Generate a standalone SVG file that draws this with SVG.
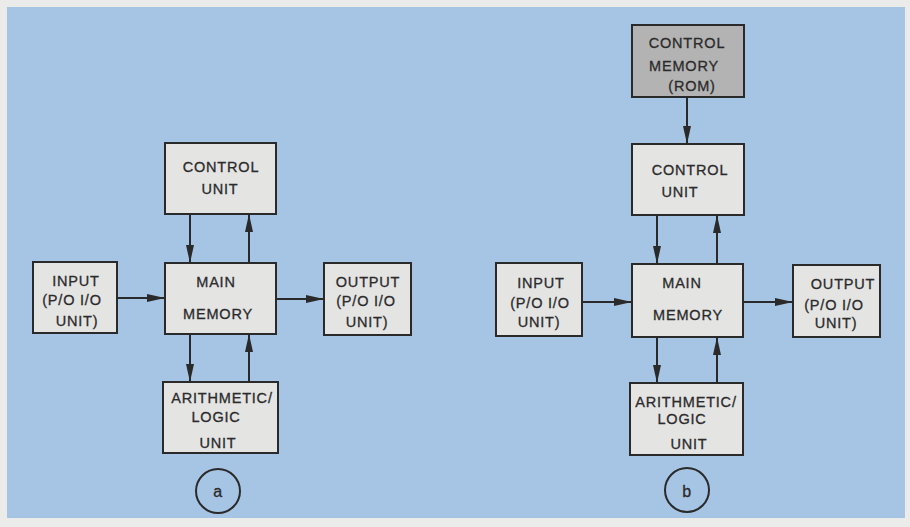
<svg xmlns="http://www.w3.org/2000/svg" width="910" height="527" viewBox="0 0 910 527">
<style>
.box{fill:#e4e4e3;stroke:#2a2a2a;stroke-width:2}
.rom{fill:#b4b3b3;stroke:#2a2a2a;stroke-width:2}
.t{font-family:"Liberation Sans",Arial,sans-serif;font-size:14.5px;fill:#2b2b2b;stroke:#2b2b2b;stroke-width:0.3;text-anchor:middle;letter-spacing:0.8px}
.c{fill:none;stroke:#2a2a2a;stroke-width:2}
.ln{stroke:#2a2a2a;stroke-width:2;fill:none}
</style>
<defs>
<marker id="ah" viewBox="0 0 18 8" refX="18" refY="4" markerWidth="18" markerHeight="8" markerUnits="userSpaceOnUse" orient="auto">
<path d="M0,0 L18,4 L0,8 Z" fill="#2a2a2a"/>
</marker>
</defs>
<rect x="0" y="0" width="910" height="527" fill="#ebebea"/>
<rect x="7" y="7" width="898" height="511" fill="#a6c4e3"/>

<g id="connectors">
<line class="ln" x1="190" y1="214" x2="190" y2="263" marker-end="url(#ah)"/>
<line class="ln" x1="249" y1="263" x2="249" y2="214" marker-end="url(#ah)"/>
<line class="ln" x1="190" y1="334" x2="190" y2="382" marker-end="url(#ah)"/>
<line class="ln" x1="249" y1="382" x2="249" y2="334" marker-end="url(#ah)"/>
<line class="ln" x1="117" y1="298" x2="165" y2="298" marker-end="url(#ah)"/>
<line class="ln" x1="276" y1="299" x2="324" y2="299" marker-end="url(#ah)"/>

<line class="ln" x1="687" y1="97" x2="687" y2="144" marker-end="url(#ah)"/>
<line class="ln" x1="657" y1="215" x2="657" y2="264" marker-end="url(#ah)"/>
<line class="ln" x1="717" y1="264" x2="717" y2="215" marker-end="url(#ah)"/>
<line class="ln" x1="657" y1="337" x2="657" y2="383" marker-end="url(#ah)"/>
<line class="ln" x1="717" y1="383" x2="717" y2="337" marker-end="url(#ah)"/>
<line class="ln" x1="582" y1="302" x2="632" y2="302" marker-end="url(#ah)"/>
<line class="ln" x1="743" y1="302" x2="793" y2="302" marker-end="url(#ah)"/>
</g>

<g id="a-control">
<rect class="box" x="165" y="143" width="111" height="71"/>
<text class="t" x="221" y="172">CONTROL</text>
<text class="t" x="220" y="194">UNIT</text>
</g>
<g id="a-main">
<rect class="box" x="165" y="263" width="111" height="71"/>
<text class="t" x="216" y="287">MAIN</text>
<text class="t" x="218" y="319">MEMORY</text>
</g>
<g id="a-input">
<rect class="box" x="33" y="262" width="84" height="71"/>
<text class="t" x="76" y="286">INPUT</text>
<text class="t" x="72" y="305">(P/O I/O</text>
<text class="t" x="77" y="326">UNIT)</text>
</g>
<g id="a-output">
<rect class="box" x="324" y="263" width="87" height="72"/>
<text class="t" x="368" y="287">OUTPUT</text>
<text class="t" x="366" y="306">(P/O I/O</text>
<text class="t" x="367" y="327">UNIT)</text>
</g>
<g id="a-alu">
<rect class="box" x="163" y="382" width="115" height="71"/>
<text class="t" x="222" y="403">ARITHMETIC/</text>
<text class="t" x="216" y="422">LOGIC</text>
<text class="t" x="218" y="448">UNIT</text>
</g>
<g id="a-label">
<circle class="c" cx="218" cy="491" r="22"/>
<text class="t" x="218" y="497" style="font-size:16px">a</text>
</g>

<g id="b-rom">
<rect class="rom" x="632" y="25" width="112" height="72"/>
<text class="t" x="687" y="48">CONTROL</text>
<text class="t" x="684" y="71">MEMORY</text>
<text class="t" x="692" y="91">(ROM)</text>
</g>
<g id="b-control">
<rect class="box" x="632" y="144" width="112" height="71"/>
<text class="t" x="690" y="175">CONTROL</text>
<text class="t" x="680" y="197">UNIT</text>
</g>
<g id="b-main">
<rect class="box" x="632" y="264" width="111" height="73"/>
<text class="t" x="682" y="288">MAIN</text>
<text class="t" x="688" y="320">MEMORY</text>
</g>
<g id="b-input">
<rect class="box" x="496" y="263" width="86" height="73"/>
<text class="t" x="541" y="288">INPUT</text>
<text class="t" x="540" y="308">(P/O I/O</text>
<text class="t" x="539" y="327">UNIT)</text>
</g>
<g id="b-output">
<rect class="box" x="793" y="265" width="87" height="72"/>
<text class="t" x="843" y="289">OUTPUT</text>
<text class="t" x="834" y="310">(P/O I/O</text>
<text class="t" x="836" y="328">UNIT)</text>
</g>
<g id="b-alu">
<rect class="box" x="630" y="383" width="113" height="72"/>
<text class="t" x="686" y="407">ARITHMETIC/</text>
<text class="t" x="682" y="424">LOGIC</text>
<text class="t" x="689" y="449">UNIT</text>
</g>
<g id="b-label">
<circle class="c" cx="687" cy="490" r="22"/>
<text class="t" x="687" y="497" style="font-size:16px">b</text>
</g>
</svg>
